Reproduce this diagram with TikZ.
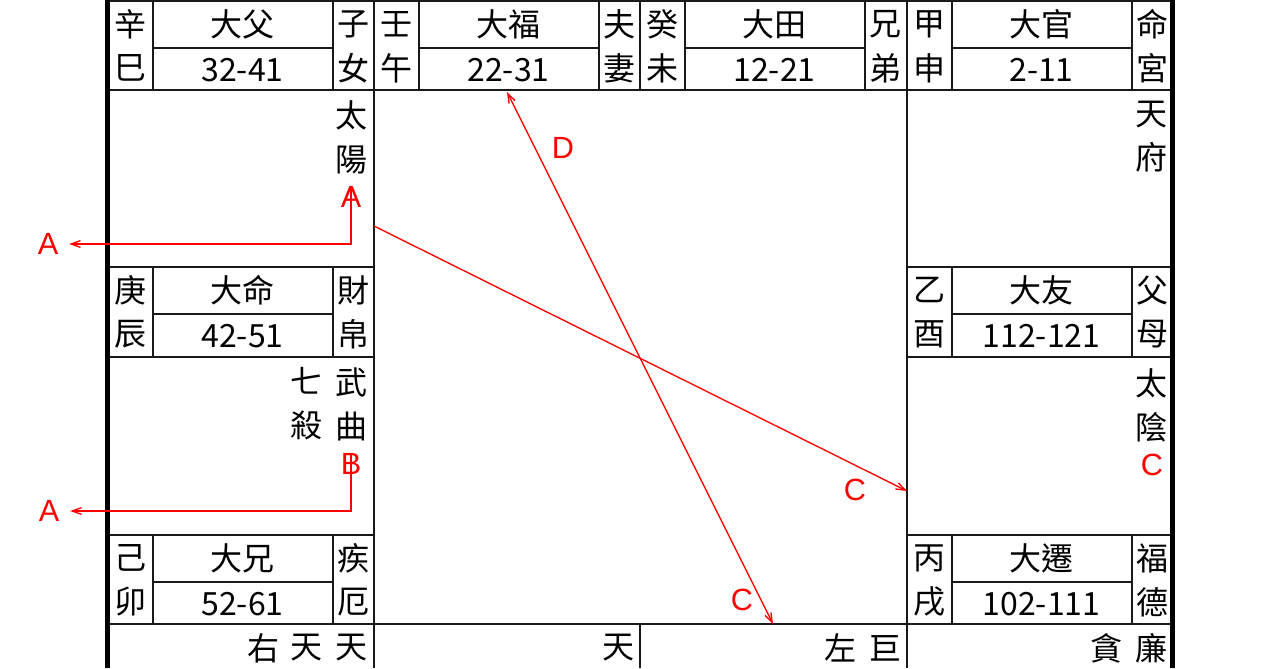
\documentclass[tikz,border=0pt]{standalone}
\usepackage{fontspec}
\setmainfont{Liberation Sans}
\newfontfamily\chartfont{Noto Sans CJK TC}
\usetikzlibrary{arrows.meta}
\tikzset{
  grid/.style={line width=1.5pt, black!90},
  frame/.style={line width=3.6pt, black},
  hd/.style={font=\chartfont\fontsize{24}{24}\selectfont, inner sep=0pt},
  star/.style={font=\chartfont\fontsize{24}{33}\selectfont, inner sep=0pt, align=center},
  redlab/.style={text=red, font=\fontsize{23}{23}\selectfont, inner sep=0pt},
  hua/.style={red, line width=1pt, -{Straight Barb[length=7pt,width=5pt]}},
  huab/.style={red, line width=1pt, {Straight Barb[length=7pt,width=5pt]}-{Straight Barb[length=7pt,width=5pt]}}
}
\begin{document}
\begin{tikzpicture}[x=0.75pt, y=-0.75pt]
\useasboundingbox (0,0) rectangle (1280,668);
\draw [grid] (108,1) -- (1172,1) (108,90) -- (1172,90) (108,624) -- (1172,624);
\draw [grid] (108,267) -- (374,267) (907,267) -- (1172,267);
\draw [grid] (108,357) -- (374,357) (907,357) -- (1172,357);
\draw [grid] (108,535) -- (374,535) (907,535) -- (1172,535);
\draw [grid] (374,0) -- (374,668) (907,0) -- (907,668) (640,0) -- (640,90) (640,624) -- (640,668);
\draw [frame] (107.5,0) -- (107.5,668) (1172.5,0) -- (1172.5,668);
\foreach \hx/\hy/\sa/\sb/\ta/\tb/\pa/\pb [count=\i] in {
  108/1/辛/巳/大父/32-41/子/女, 374/1/壬/午/大福/22-31/夫/妻,
  640/1/癸/未/大田/12-21/兄/弟, 907/1/甲/申/大官/2-11/命/宮,
  108/267/庚/辰/大命/42-51/財/帛, 108/535/己/卯/大兄/52-61/疾/厄,
  907/267/乙/酉/大友/112-121/父/母, 907/535/丙/戌/大遷/102-111/福/德}
{
\begin{scope}[shift={(\hx,\hy)}]
\draw [grid] (44.5,0) -- (44.5,89) (225,0) -- (225,89) (44.5,46.5) -- (225,46.5);
\node [hd] (stem\i) at (22,23) {\sa};
\node [hd] (branch\i) at (22,67) {\sb};
\node [hd] (daxian\i) at (134.5,23) {\ta};
\node [hd] (age\i) at (134.5,69) {\tb};
\node [hd] (gong\i) at (245.5,23) {\pa};
\node [hd] (gongb\i) at (245.5,67) {\pb};
\end{scope}
}
\node [star] (taiyang) at (351,137) {太\\陽};
\node [star] (tianfu) at (1151,137) {天\\府};
\node [star] (wuqu) at (351,404) {武\\曲};
\node [star] (qisha) at (306,404) {七\\殺};
\node [star] (taiyin) at (1151,405) {太\\陰};
\node [hd] (tianA) at (351,648) {天};
\node [hd] (tianB) at (306,648) {天};
\node [hd] (youbi) at (263,648) {右};
\node [hd] (tianC) at (618,648) {天};
\node [hd] (jumen) at (885,648) {巨};
\node [hd] (zuofu) at (840,648) {左};
\node [hd] (lianzhen) at (1151,648) {廉};
\node [hd] (tanlang) at (1106,648) {貪};
\node [redlab] (sunA) at (351,197) {A};
\node [redlab] (wuB) at (351,464) {B};
\node [redlab] (moonC) at (1152,465) {C};
\node [redlab] (outA) at (48,244) {A};
\node [redlab] (outAb) at (49,511) {A};
\node [redlab] (crossC) at (855,490) {C};
\node [redlab] (fuD) at (563,148) {D};
\node [redlab] (downC) at (742,600) {C};
\coordinate (sunOut) at (374,226);
\coordinate (moonIn) at (907,491);
\coordinate (fuGate) at (507,92);
\coordinate (tianGate) at (773,624);
\draw [hua, shorten >=8pt] (sunA.north) |- (outA.east);
\draw [hua, shorten >=8pt] (wuB.north) |- (outAb.east);
\draw [hua] (sunOut) -- (moonIn);
\draw [huab] (fuGate) -- (tianGate);
\end{tikzpicture}
\end{document}
